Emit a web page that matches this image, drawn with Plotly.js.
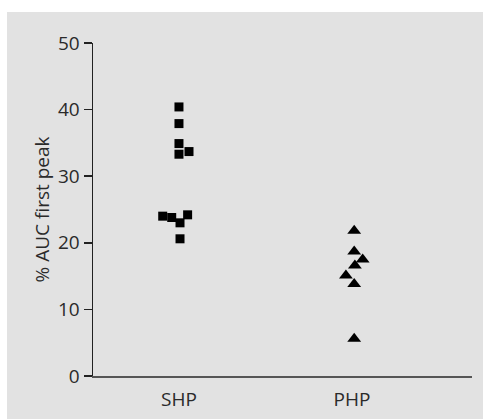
<!DOCTYPE html>
<html>
<head>
<meta charset="utf-8">
<script src="https://cdn.plot.ly/plotly-3.0.1.min.js"></script>
<style>
html,body{margin:0;padding:0;background:#ffffff;}
#wrap{position:absolute;left:7px;top:12px;width:476px;height:407px;background:#e2e2e2;}
#chart{width:476px;height:407px;}
</style>
</head>
<body>
<div id="wrap"><div id="chart"></div></div>
<script>
const categories = ['SHP', 'PHP'];
const shpValues = [40.4, 37.9, 34.9, 33.3, 33.7, 24.0, 23.8, 23.0, 24.2, 20.6];
const shpOffsets = [0, 0, 0, 0, 0.058, -0.094, -0.042, 0.006, 0.05, 0.006];
const phpValues = [21.8, 18.7, 17.5, 16.6, 15.1, 13.8, 5.6];
const phpOffsets = [0.013, 0.013, 0.062, 0.017, -0.035, 0.013, 0.013];
const yTicks = [0, 10, 20, 30, 40, 50];

const traces = [
  {
    type: 'scatter', mode: 'markers',
    x: shpOffsets.map(o => 0 + o), y: shpValues,
    marker: {symbol: 'square', size: 9, color: '#000000'},
    hoverinfo: 'y', showlegend: false
  },
  {
    type: 'scatter', mode: 'markers',
    x: phpOffsets.map(o => 1 + o), y: phpValues,
    marker: {symbol: 'triangle-up', size: 12, color: '#000000'},
    hoverinfo: 'y', showlegend: false
  }
];

const layout = {
  width: 476, height: 407,
  paper_bgcolor: '#e2e2e2', plot_bgcolor: '#e2e2e2',
  margin: {l: 86, r: 11, t: 31, b: 43},
  font: {family: '"Open Sans", "Liberation Sans", sans-serif', size: 19, color: '#2a2a2a'},
  xaxis: {
    range: [-0.497, 1.694],
    tickvals: [0, 1], ticktext: categories,
    showgrid: false, zeroline: false,
    showline: true, linecolor: '#555555', linewidth: 2,
    ticks: 'outside', ticklen: 5, tickcolor: 'rgba(0,0,0,0)',
    tickfont: {size: 19}
  },
  yaxis: {
    range: [0, 50],
    tickvals: yTicks,
    showgrid: false, zeroline: false,
    showline: true, linecolor: '#222222', linewidth: 1.5,
    ticks: 'outside', ticklen: 8, tickwidth: 1.5, tickcolor: '#222222',
    tickfont: {size: 19},
    title: {text: '% AUC first peak', font: {size: 19}, standoff: 3}
  }
};

Plotly.newPlot('chart', traces, layout, {displayModeBar: false, staticPlot: true});
</script>
</body>
</html>
